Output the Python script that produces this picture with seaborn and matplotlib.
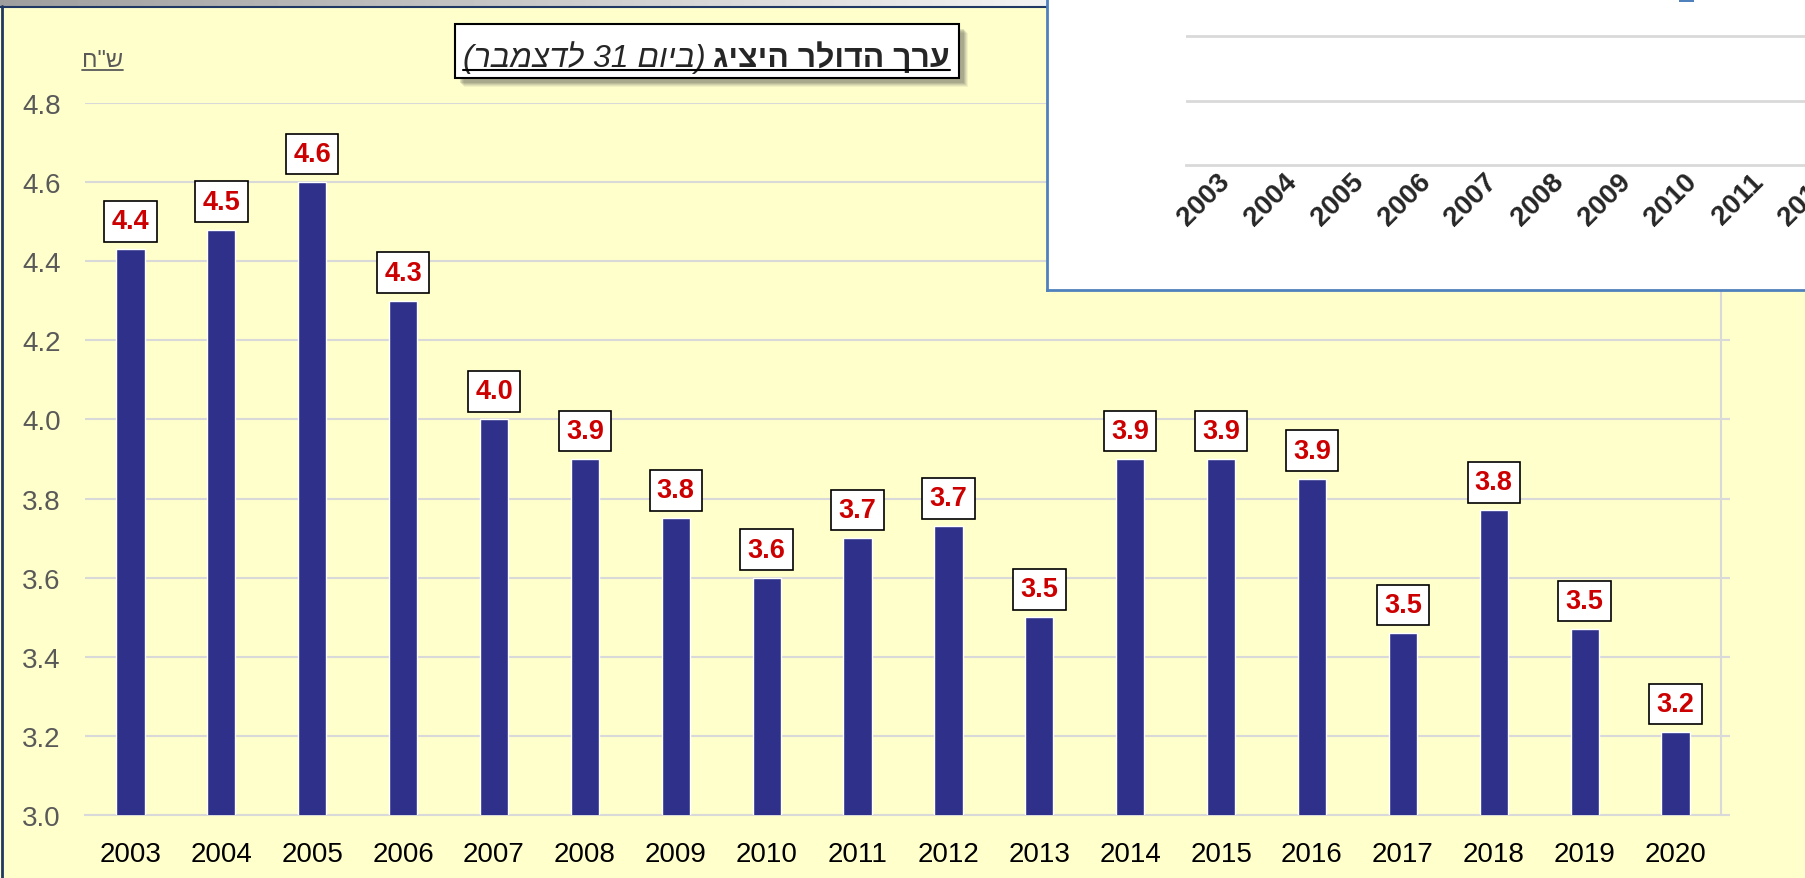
import numpy as np
import pandas as pd
import seaborn as sns
import matplotlib.pyplot as plt
from matplotlib.patches import Rectangle
from matplotlib.lines import Line2D
from matplotlib.transforms import ScaledTranslation

# exchange rate of the dollar on 31 December (NIS)
years = [str(y) for y in range(2003, 2021)]
rates = [4.43, 4.48, 4.60, 4.30, 4.00, 3.90, 3.75, 3.60, 3.70,
         3.73, 3.50, 3.90, 3.90, 3.85, 3.46, 3.77, 3.47, 3.21]
labels = ['4.4', '4.5', '4.6', '4.3', '4.0', '3.9', '3.8', '3.6', '3.7',
          '3.7', '3.5', '3.9', '3.9', '3.9', '3.5', '3.8', '3.5', '3.2']
yticks = [3.0, 3.2, 3.4, 3.6, 3.8, 4.0, 4.2, 4.4, 4.6, 4.8]
# years visible in the overlapping chart window (cut at the right edge)
inset_years = years[:10]

# hebrew strings written in visual (left-to-right) order
title_main = 'גיציה רלודה ךרע'
title_paren = '(רבמצדל 31 םויב)'
unit_label = 'ח"ש'

W, H = 1805, 879
YELLOW = '#FFFFCC'
BAR = '#2E308A'
GRID = '#D9D9D9'

sns.set_style('white')
plt.rcParams['font.family'] = ['Liberation Sans', 'DejaVu Sans']

df = pd.DataFrame({'year': years, 'rate': rates})

fig = plt.figure(figsize=(W / 100, H / 100), dpi=100, facecolor=YELLOW)

def px(x0, y0, x1, y1):
    # pixel box (top-left origin) -> figure fraction rect
    return [x0 / W, 1 - y1 / H, (x1 - x0) / W, (y1 - y0) / H]

# window frame: gray gradient strip at top, navy border
bg = fig.add_axes([0, 0, 1, 1], zorder=0)
bg.set_xlim(0, W)
bg.set_ylim(H, 0)
bg.axis('off')
grad = np.linspace(0.62, 0.95, 256).reshape(1, -1)
bg.imshow(grad, cmap='gray', vmin=0, vmax=1, extent=(0, 1047, 7, 0), aspect='auto')
bg.add_line(Line2D([0, 1047], [7.5, 7.5], color='#1F3864', lw=1.5))
bg.add_line(Line2D([1.5, 1.5], [7, H], color='#1F3864', lw=2))

# main chart
ax = fig.add_axes(px(85, 104, 1721, 816), zorder=1)
ax.set_facecolor(YELLOW)
sns.barplot(data=df, x='year', y='rate', color=BAR, width=0.31,
            saturation=1, ax=ax, zorder=3)
ax.set_xlim(-0.5, len(years) - 0.5)
ax.set_ylim(3.0, 4.8)
ax.set_yticks(yticks)
ax.set_yticklabels([f'{v:.1f}' for v in yticks])
ax.set_xlabel('')
ax.set_ylabel('')
ax.grid(axis='y', color=GRID, lw=1.5, zorder=0)
ax.set_axisbelow(True)
for s in ['top', 'left']:
    ax.spines[s].set_visible(False)
for s in ['bottom', 'right']:
    ax.spines[s].set_color(GRID)
    ax.spines[s].set_linewidth(1.5)
ax.tick_params(axis='y', left=False, right=True, length=6.5, width=1.5,
               color=GRID, labelsize=20, labelcolor='#595959', pad=11)
ax.tick_params(axis='x', length=0, labelsize=20, labelcolor='black', pad=19)

for i, (v, lab) in enumerate(zip(rates, labels)):
    ax.annotate(lab, (i, v), xytext=(0, 15), textcoords='offset pixels',
                ha='center', va='bottom', fontsize=19.5, fontweight='bold',
                color='#CC0000', zorder=5,
                bbox=dict(boxstyle='square,pad=0.27', fc='white', ec='black', lw=1.2))

# unit label
unit = fig.text(82 / W, 1 - 67 / H, unit_label, fontsize=17, color='#595959',
                ha='left', va='baseline', zorder=6)

# title: italic part on the left, bold part on the right, underlined, in a shadowed box
base = 67
t_paren = fig.text(706 / W, 1 - base / H, title_paren, fontsize=23, fontstyle='italic',
                   ha='right', va='baseline', zorder=8)
t_main = fig.text(713 / W, 1 - base / H, title_main, fontsize=23, fontweight='bold',
                  ha='left', va='baseline', zorder=8)

fig.canvas.draw()
r = fig.canvas.get_renderer()
b1 = t_paren.get_window_extent(r)
b2 = t_main.get_window_extent(r)
tx0, tx1 = b1.x0, b2.x1
bx0, bx1 = tx0 - 8, tx1 + 9
by0, by1 = H - base - 12, H - base + 42
for k, a in enumerate([0.07, 0.09, 0.11, 0.13, 0.15]):
    off = 9 - k
    fig.patches.append(Rectangle((bx0 + off, by0 - off), bx1 - bx0, by1 - by0,
                                 transform=None, fc='#404040', ec='none',
                                 alpha=a, zorder=6.5))
fig.patches.append(Rectangle((bx0, by0), bx1 - bx0, by1 - by0, transform=None,
                             fc='white', ec='black', lw=1.5, zorder=7))
fig.lines.append(Line2D([tx0, tx1], [H - base - 3.5, H - base - 3.5], transform=None,
                        color='black', lw=1.5, zorder=9))
ub = unit.get_window_extent(r)
fig.lines.append(Line2D([ub.x0, ub.x1], [H - 71, H - 71], transform=None,
                        color='#595959', lw=1.3, zorder=9))

# overlapping second chart window in the top-right corner
ins = fig.add_axes(px(1047, -10, W + 10, 291), zorder=10)
ins.set_facecolor('white')
ins.set_xticks([])
ins.set_yticks([])
for s in ['top', 'right']:
    ins.spines[s].set_visible(False)
for s in ['left', 'bottom']:
    ins.spines[s].set_color('#4F81BD')
    ins.spines[s].set_linewidth(2)

n_in = len(inset_years)
inner = fig.add_axes(px(1186, 166 - 3 * 64.5, 1186 + n_in * 66.7, 166), zorder=11)
inner.patch.set_alpha(0)
inner.set_xlim(-0.5, n_in - 0.5)
inner.set_ylim(0, 3)
inner.set_yticks([1, 2, 3])
inner.set_yticklabels([])
inner.grid(axis='y', color=GRID, lw=2)
inner.tick_params(axis='y', length=0)
inner.set_xticks(range(n_in))
inner.set_xticklabels(inset_years, rotation=45, ha='right', va='center',
                      rotation_mode='anchor', fontsize=20, fontweight='bold')
inner.set_xticks(np.arange(-0.5, n_in), minor=True)
inner.tick_params(axis='x', which='major', length=0, pad=9)
inner.tick_params(axis='x', which='minor', length=7, width=2, color=GRID)
shift = ScaledTranslation(5 / 72, 0, fig.dpi_scale_trans)
for t in inner.get_xticklabels():
    t.set_transform(t.get_transform() + shift)
for s in ['top', 'left', 'right']:
    inner.spines[s].set_visible(False)
inner.spines['bottom'].set_color(GRID)
inner.spines['bottom'].set_linewidth(2)
fig.patches.append(Rectangle((1679, H - 3), 15, 3, transform=None,
                             fc='#4F81BD', ec='none', zorder=12))

fig.savefig('out.png', dpi=100, facecolor=YELLOW)
